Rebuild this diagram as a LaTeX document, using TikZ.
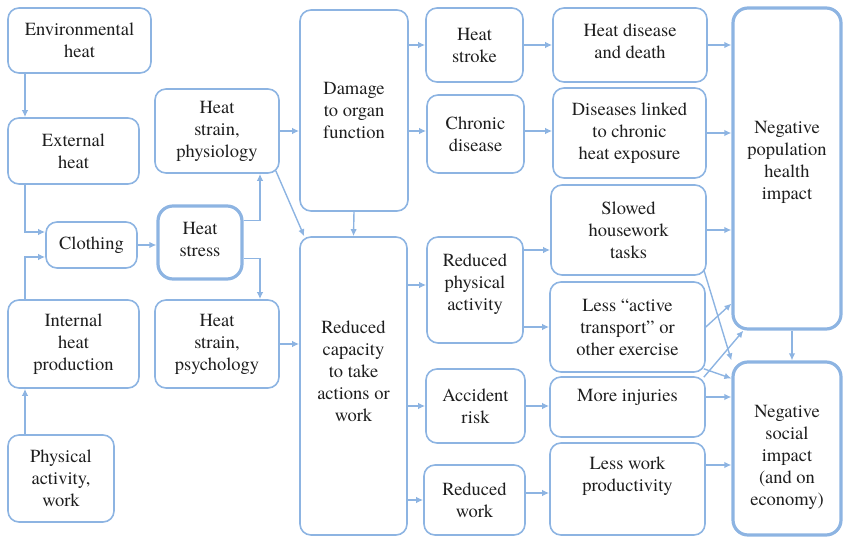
\documentclass[tikz,border=0pt]{standalone}
\usepackage{fontspec}
\setmainfont{texgyretermes}[Extension=.otf, UprightFont=*-regular, BoldFont=*-bold]
\usetikzlibrary{arrows.meta}
\definecolor{linkblue}{RGB}{141,180,226}
\definecolor{textgray}{RGB}{30,30,30}

\begin{document}
\begin{tikzpicture}[x=1pt,y=-1pt,
  >={Latex[length=7pt,width=6.5pt]},
  box/.style={draw=linkblue, line width=1.6pt, rounded corners=11pt, align=center,
    inner sep=2pt, text=textgray, font=\fontsize{18.5}{22}\selectfont},
  bigbox/.style={box, line width=3.2pt, rounded corners=15pt},
  link/.style={draw=linkblue, line width=1.4pt}]
\useasboundingbox (0,0) rectangle (843,537);
\coordinate (spine) at (25,0);

% left column: heat sources
\node[box, minimum width=143pt, minimum height=65pt] (env) at (79.5,40.5) {Environmental\\heat};
\node[box, minimum width=131pt, minimum height=66pt] (ext) at (73.5,151) {External\\heat};
\node[box, minimum width=91pt, minimum height=46pt] (cloth) at (91.5,245) {Clothing};
\node[box, minimum width=131pt, minimum height=88pt] (internal) at (73.5,344) {Internal\\heat\\production};
\node[box, minimum width=106pt, minimum height=87pt] (physact) at (61,478.5) {Physical\\activity,\\work};

% heat stress and strain
\node[bigbox, minimum width=84pt, minimum height=73pt, text depth=6pt] (stress) at (200,242.5) {Heat\\stress};
\node[box, minimum width=124pt, minimum height=84pt] (physio) at (217,131) {Heat\\strain,\\physiology};
\node[box, minimum width=124pt, minimum height=88pt] (psycho) at (217,344) {Heat\\strain,\\psychology};

% effects
\node[box, minimum width=108pt, minimum height=201pt] (damage) at (354,110.5) {Damage\\to organ\\function};
\node[box, minimum width=107pt, minimum height=298pt, text depth=30pt] (capacity) at (353.5,386) {Reduced\\capacity\\to take\\actions or\\work};

\node[box, minimum width=97pt, minimum height=74pt] (stroke) at (474.5,45) {Heat\\stroke};
\node[box, minimum width=97pt, minimum height=78pt] (chronic) at (475.5,134) {Chronic\\disease};
\node[box, minimum width=96pt, minimum height=106pt, text depth=16pt] (redphys) at (475,290) {Reduced\\physical\\activity};
\node[box, minimum width=99pt, minimum height=74pt] (accident) at (475.5,406) {Accident\\risk};
\node[box, minimum width=101pt, minimum height=70pt] (redwork) at (474.5,500) {Reduced\\work};

\node[box, minimum width=154pt, minimum height=74pt, text depth=8pt] (death) at (630,45) {Heat disease\\and death};
\node[box, minimum width=153pt, minimum height=90pt] (linked) at (629.5,133) {Diseases linked\\to chronic\\heat exposure};
\node[box, minimum width=155pt, minimum height=90pt] (housework) at (628.5,230) {Slowed\\housework\\tasks};
\node[box, minimum width=155pt, minimum height=90pt] (transport) at (627.5,327) {Less “active\\transport” or\\other exercise};
\node[box, minimum width=155pt, minimum height=60pt, text depth=24pt] (injuries) at (627.5,407) {More injuries};
\node[box, minimum width=155pt, minimum height=92pt, text depth=30pt] (productivity) at (627.5,489) {Less work\\productivity};

% impacts
\node[bigbox, minimum width=108pt, minimum height=321pt, text depth=17pt] (health) at (787,168.5) {Negative\\population\\health\\impact};
\node[bigbox, minimum width=108pt, minimum height=173pt] (social) at (787,448.5) {\rule{0pt}{30pt}Negative\\social\\impact\\(and on\\economy)};

% connectors
\draw[link,->] (env.south -| spine) -- (ext.north -| spine);
\draw[link,->] (ext.south -| spine) |- ([yshift=13pt]cloth.west);
\draw[link,->] (internal.north -| spine) |- ([yshift=-12pt]cloth.west);
\draw[link,->] (physact.north -| spine) -- (internal.south -| spine);
\draw[link,->] (cloth.east) -- (cloth.east -| stress.west);
\draw[link,->] ([yshift=22pt]stress.east) -| ([xshift=43pt]physio.south);
\draw[link,->] ([yshift=-16pt]stress.east) -| ([xshift=43pt]psycho.north);
\draw[link,->] (physio.east) -- (physio.east -| damage.west);
\draw[link,->] ([shift={(-4pt,3pt)}]physio.south east) -- ([xshift=5pt]capacity.north west);
\draw[link,->] (psycho.east) -- (psycho.east -| capacity.west);
\draw[link,->] (damage.south) -- (capacity.north);
\draw[link,->] (stroke.west -| damage.east) -- (stroke.west);
\draw[link,->] ([yshift=3pt]chronic.west -| damage.east) -- ([yshift=3pt]chronic.west);
\draw[link,->] ([yshift=5pt]redphys.west -| capacity.east) -- ([yshift=5pt]redphys.west);
\draw[link,->] (accident.west -| capacity.east) -- (accident.west);
\draw[link,->] (redwork.west -| capacity.east) -- (redwork.west);
\draw[link,->] (stroke.east) -- (stroke.east -| death.west);
\draw[link,->] ([yshift=3pt]chronic.east) -- ([yshift=3pt]chronic.east -| linked.west);
\draw[link,->] ([yshift=40pt]redphys.east) -- ([yshift=40pt]redphys.east -| housework.west);
\draw[link,->] (transport.west -| redphys.east) -- (transport.west);
\draw[link,->] (accident.east) -- (accident.east -| injuries.west);
\draw[link,->] ([yshift=7pt]redwork.east) -- ([yshift=7pt]redwork.east -| productivity.west);
\draw[link,->] (death.east) -- (death.east -| health.west);
\draw[link,->] (linked.east) -- (linked.east -| health.west);
\draw[link,->] (housework.east) -- (housework.east -| health.west);
\draw[link,->] ([shift={(-3pt,6pt)}]housework.south east) -- (social.north west);
\draw[link,->] (transport.east) -- ([yshift=27pt]health.south west);
\draw[link,->] ([shift={(-2pt,4pt)}]transport.south east) -- ([yshift=-18pt]social.north west);
\draw[link,->] ([shift={(-2pt,-1pt)}]injuries.north east) -- ([xshift=12pt]health.south west);
\draw[link,->] ([yshift=10pt]injuries.east) -- ([yshift=10pt]injuries.east -| social.west);
\draw[link,->] ([yshift=24pt]productivity.east) -- ([yshift=24pt]productivity.east -| social.west);
\draw[link,->] ([xshift=5pt]health.south) -- ([xshift=5pt]social.north);
\end{tikzpicture}
\end{document}
